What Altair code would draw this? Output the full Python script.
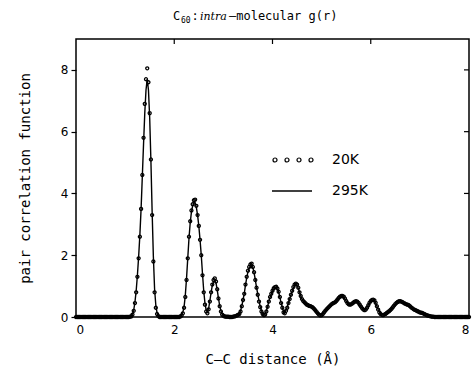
import altair as alt
import pandas as pd

# ---------------- data ----------------
STEP = 0.025  # sampling step of r (Å)

# g(r) at 20K, rows of 8 samples; comment = r at start of row
g_20K = [
    0, 0, 0, 0, 0, 0, 0, 0,                                  # 0.0
    0, 0, 0, 0, 0, 0, 0, 0,                                  # 0.2
    0, 0, 0, 0, 0, 0, 0, 0,                                  # 0.4
    0, 0, 0, 0, 0, 0, 0, 0,                                  # 0.6
    0, 0, 0, 0, 0, 0, 0, 0,                                  # 0.8
    0, 0, 0, 0, 0.01, 0.02, 0.08, 0.2,                       # 1.0
    0.45, 0.8, 1.3, 1.9, 2.6, 3.5, 4.6, 5.8,                 # 1.2
    6.9, 7.7, 8.05, 7.6, 6.6, 5.1, 3.3, 1.8,                 # 1.4
    0.8, 0.3, 0.1, 0.03, 0, 0, 0, 0,                         # 1.6
    0, 0, 0, 0, 0, 0, 0, 0,                                  # 1.8
    0, 0, 0, 0, 0, 0.02, 0.05, 0.12,                         # 2.0
    0.3, 0.65, 1.2, 1.9, 2.6, 3.1, 3.45, 3.65,               # 2.2
    3.78, 3.8, 3.6, 3.3, 2.95, 2.5, 2.0, 1.35,               # 2.4
    0.8, 0.4, 0.18, 0.12, 0.25, 0.5, 0.8, 1.05,              # 2.6
    1.2, 1.25, 1.15, 0.9, 0.6, 0.35, 0.18, 0.08,             # 2.8
    0.04, 0.02, 0.01, 0.01, 0.01, 0, 0, 0,                   # 3.0
    0.01, 0.02, 0.03, 0.05, 0.07, 0.1, 0.18, 0.35,           # 3.2
    0.55, 0.75, 1.05, 1.3, 1.5, 1.62, 1.7, 1.73,             # 3.4
    1.62, 1.45, 1.2, 0.95, 0.72, 0.5, 0.32, 0.18,            # 3.6
    0.1, 0.06, 0.08, 0.18, 0.33, 0.5, 0.65, 0.75,            # 3.8
    0.85, 0.93, 0.97, 0.98, 0.92, 0.82, 0.65, 0.45,          # 4.0
    0.3, 0.15, 0.12, 0.2, 0.3, 0.45, 0.58, 0.72,             # 4.2
    0.85, 0.97, 1.05, 1.08, 1.05, 0.95, 0.8, 0.68,           # 4.4
    0.58, 0.52, 0.48, 0.44, 0.4, 0.38, 0.36, 0.35,           # 4.6
    0.33, 0.3, 0.26, 0.21, 0.16, 0.11, 0.07, 0.05,           # 4.8
    0.06, 0.1, 0.15, 0.2, 0.25, 0.29, 0.33, 0.37,            # 5.0
    0.41, 0.44, 0.46, 0.48, 0.52, 0.57, 0.62, 0.66,          # 5.2
    0.68, 0.68, 0.66, 0.6, 0.52, 0.45, 0.41, 0.4,            # 5.4
    0.41, 0.44, 0.47, 0.5, 0.51, 0.5, 0.46, 0.4,             # 5.6
    0.34, 0.28, 0.24, 0.22, 0.24, 0.3, 0.38, 0.46,           # 5.8
    0.52, 0.55, 0.56, 0.54, 0.46, 0.35, 0.24, 0.15,          # 6.0
    0.1, 0.07, 0.06, 0.08, 0.1, 0.13, 0.16, 0.19,            # 6.2
    0.23, 0.27, 0.32, 0.37, 0.42, 0.46, 0.49, 0.51,          # 6.4
    0.51, 0.5, 0.48, 0.45, 0.43, 0.41, 0.4, 0.38,            # 6.6
    0.35, 0.31, 0.28, 0.25, 0.23, 0.21, 0.19, 0.17,          # 6.8
    0.15, 0.14, 0.13, 0.11, 0.09, 0.07, 0.05, 0.04,          # 7.0
    0.03, 0.02, 0.01, 0.01, 0, 0, 0, 0,                      # 7.2
    0, 0, 0, 0, 0, 0, 0, 0,                                  # 7.4
    0, 0, 0, 0, 0, 0, 0, 0,                                  # 7.6
    0, 0, 0, 0, 0, 0, 0, 0,                                  # 7.8
    0,                                                       # 8.0
]

# g(r) at 295K
g_295K = [
    0, 0, 0, 0, 0, 0, 0, 0,                                  # 0.0
    0, 0, 0, 0, 0, 0, 0, 0,                                  # 0.2
    0, 0, 0, 0, 0, 0, 0, 0,                                  # 0.4
    0, 0, 0, 0, 0, 0, 0, 0,                                  # 0.6
    0, 0, 0, 0, 0, 0, 0, 0,                                  # 0.8
    0, 0, 0, 0, 0.01, 0.03, 0.1, 0.22,                       # 1.0
    0.48, 0.85, 1.35, 1.95, 2.65, 3.5, 4.55, 5.6,            # 1.2
    6.6, 7.35, 7.7, 7.35, 6.45, 5.05, 3.4, 1.95,             # 1.4
    0.9, 0.38, 0.13, 0.04, 0.01, 0, 0, 0,                    # 1.6
    0, 0, 0, 0, 0, 0, 0, 0,                                  # 1.8
    0, 0, 0, 0, 0.01, 0.03, 0.07, 0.15,                      # 2.0
    0.33, 0.7, 1.25, 1.9, 2.55, 3.05, 3.4, 3.6,              # 2.2
    3.7, 3.7, 3.55, 3.3, 2.95, 2.5, 2.0, 1.4,                # 2.4
    0.85, 0.45, 0.22, 0.16, 0.28, 0.52, 0.8, 1.02,           # 2.6
    1.15, 1.18, 1.1, 0.88, 0.6, 0.37, 0.2, 0.1,              # 2.8
    0.05, 0.03, 0.02, 0.01, 0.01, 0.01, 0.01, 0.01,          # 3.0
    0.01, 0.02, 0.04, 0.06, 0.08, 0.12, 0.2, 0.36,           # 3.2
    0.55, 0.76, 1.03, 1.27, 1.46, 1.58, 1.65, 1.67,          # 3.4
    1.6, 1.44, 1.2, 0.96, 0.74, 0.52, 0.34, 0.2,             # 3.6
    0.12, 0.09, 0.11, 0.2, 0.34, 0.5, 0.64, 0.74,            # 3.8
    0.84, 0.91, 0.94, 0.95, 0.9, 0.8, 0.64, 0.46,            # 4.0
    0.31, 0.18, 0.15, 0.22, 0.32, 0.46, 0.58, 0.71,          # 4.2
    0.83, 0.94, 1.01, 1.04, 1.01, 0.93, 0.8, 0.68,           # 4.4
    0.58, 0.52, 0.48, 0.45, 0.41, 0.39, 0.37, 0.35,          # 4.6
    0.33, 0.3, 0.27, 0.22, 0.17, 0.12, 0.09, 0.07,           # 4.8
    0.08, 0.11, 0.16, 0.21, 0.25, 0.29, 0.33, 0.37,          # 5.0
    0.4, 0.43, 0.45, 0.48, 0.52, 0.56, 0.6, 0.64,            # 5.2
    0.66, 0.66, 0.64, 0.59, 0.52, 0.46, 0.42, 0.41,          # 5.4
    0.42, 0.44, 0.47, 0.49, 0.5, 0.49, 0.45, 0.4,            # 5.6
    0.34, 0.29, 0.25, 0.24, 0.26, 0.31, 0.38, 0.45,          # 5.8
    0.5, 0.53, 0.54, 0.52, 0.45, 0.35, 0.25, 0.17,           # 6.0
    0.11, 0.08, 0.07, 0.08, 0.1, 0.13, 0.16, 0.19,           # 6.2
    0.23, 0.27, 0.31, 0.36, 0.41, 0.45, 0.48, 0.49,          # 6.4
    0.5, 0.49, 0.47, 0.45, 0.43, 0.41, 0.39, 0.37,           # 6.6
    0.34, 0.31, 0.28, 0.25, 0.23, 0.21, 0.19, 0.17,          # 6.8
    0.15, 0.14, 0.12, 0.11, 0.09, 0.07, 0.06, 0.04,          # 7.0
    0.03, 0.02, 0.02, 0.01, 0.01, 0, 0, 0,                   # 7.2
    0, 0, 0, 0, 0, 0, 0, 0,                                  # 7.4
    0, 0, 0, 0, 0, 0, 0, 0,                                  # 7.6
    0, 0, 0, 0, 0, 0, 0, 0,                                  # 7.8
    0,                                                       # 8.0
]

x_ticks = [0, 2, 4, 6, 8]
y_ticks = [0, 2, 4, 6, 8]
inner_x_ticks = [2, 4, 6]
inner_y_ticks = [2, 4, 6, 8]

# ---------------- chart ----------------
r20 = [round(i * STEP, 3) for i in range(len(g_20K))]
r295 = [round(i * STEP, 3) for i in range(len(g_295K))]
df20 = pd.DataFrame({"r": r20, "g": g_20K})
df295 = pd.DataFrame({"r": r295, "g": g_295K})

W, H = 393, 278
SANS = "DejaVu Sans"
MONO = "DejaVu Sans Mono"

xscale = alt.Scale(domain=[0, 8], nice=False)
yscale = alt.Scale(domain=[0, 9], nice=False)

xaxis = alt.Axis(values=x_ticks, format="d", title="C–C distance (Å)",
                 ticks=False, labelPadding=7, labelFont=SANS, labelFontSize=12,
                 titleFont=MONO, titleFontSize=14, titleFontWeight="normal",
                 titlePadding=17, labelColor="black", titleColor="black")
yaxis = alt.Axis(values=y_ticks, format="d", title="pair correlation function",
                 tickSize=5, tickColor="black", tickWidth=1.2, labelPadding=3,
                 labelFont=SANS, labelFontSize=12, titleFont=MONO,
                 titleFontSize=14, titleFontWeight="normal", titlePadding=28,
                 labelColor="black", titleColor="black")

line295 = alt.Chart(df295).mark_line(color="black", strokeWidth=1.4).encode(
    x=alt.X("r:Q", scale=xscale, axis=xaxis),
    y=alt.Y("g:Q", scale=yscale, axis=yaxis),
)
pts20 = alt.Chart(df20).mark_point(shape="circle", filled=False, color="black",
                                   size=9, strokeWidth=1.3, opacity=1).encode(
    x=alt.X("r:Q", scale=xscale, axis=xaxis),
    y=alt.Y("g:Q", scale=yscale, axis=yaxis),
)

top_ticks = alt.Chart(pd.DataFrame({"t": inner_x_ticks})).mark_rule(
    color="black", strokeWidth=1.2).encode(
    x=alt.X("t:Q", scale=xscale, axis=xaxis),
    y=alt.value(0), y2=alt.value(5),
)
right_ticks = alt.Chart(pd.DataFrame({"t": inner_y_ticks})).mark_rule(
    color="black", strokeWidth=1.2).encode(
    y=alt.Y("t:Q", scale=yscale, axis=yaxis),
    x=alt.value(W), x2=alt.value(W - 5),
)

one = pd.DataFrame({"a": [0]})

# legend
four_circles = ("M-1,0A0.1,0.1,0,1,1,-0.8,0A0.1,0.1,0,1,1,-1,0Z"
                "M-0.4,0A0.1,0.1,0,1,1,-0.2,0A0.1,0.1,0,1,1,-0.4,0Z"
                "M0.2,0A0.1,0.1,0,1,1,0.4,0A0.1,0.1,0,1,1,0.2,0Z"
                "M0.8,0A0.1,0.1,0,1,1,1,0A0.1,0.1,0,1,1,0.8,0Z")
leg_pts = alt.Chart(one).mark_point(shape=four_circles, filled=False,
                                    color="black", size=1600, strokeWidth=1.2,
                                    opacity=1).encode(
    x=alt.value(217), y=alt.value(121))
leg_line = alt.Chart(one).mark_rule(color="black", strokeWidth=1.4).encode(
    x=alt.value(196), x2=alt.value(236), y=alt.value(152))
leg_t1 = alt.Chart(one).mark_text(text="20K", align="left", baseline="middle",
                                  font=SANS, fontSize=14, color="black").encode(
    x=alt.value(256), y=alt.value(121))
leg_t2 = alt.Chart(one).mark_text(text="295K", align="left", baseline="middle",
                                  font=SANS, fontSize=14, color="black").encode(
    x=alt.value(256), y=alt.value(152))

# title pieces
t_c = alt.Chart(one).mark_text(text="C", align="left", baseline="alphabetic",
                               font=MONO, fontSize=12, color="black").encode(
    x=alt.value(97), y=alt.value(-19))
t_60 = alt.Chart(one).mark_text(text="60", align="left", baseline="alphabetic",
                                font=MONO, fontSize=8, color="black").encode(
    x=alt.value(105), y=alt.value(-16))
t_colon = alt.Chart(one).mark_text(text=":", align="center", baseline="alphabetic",
                                   font=MONO, fontSize=12, color="black").encode(
    x=alt.value(119), y=alt.value(-19))
t_intra = alt.Chart(one).mark_text(text="intra", align="left", baseline="alphabetic",
                                   font="DejaVu Serif", fontStyle="italic",
                                   fontSize=11, color="black").encode(
    x=alt.value(124), y=alt.value(-19))
t_rest = alt.Chart(one).mark_text(text="–molecular g(r)", align="left",
                                  baseline="alphabetic", font=MONO, fontSize=12,
                                  color="black").encode(
    x=alt.value(153), y=alt.value(-19))

chart = alt.layer(
    line295, pts20, top_ticks, right_ticks,
    leg_pts, leg_line, leg_t1, leg_t2,
    t_c, t_60, t_colon, t_intra, t_rest,
).properties(
    width=W, height=H,
    padding={"left": 76, "top": 39, "right": 4, "bottom": 52},
    autosize=alt.AutoSizeParams(type="none"),
    background="white",
).configure_view(
    stroke="black", strokeWidth=1.5,
).configure_axis(
    grid=False, domain=False,
)

chart.save("out.html", embed_options={"renderer": "svg", "actions": False})
